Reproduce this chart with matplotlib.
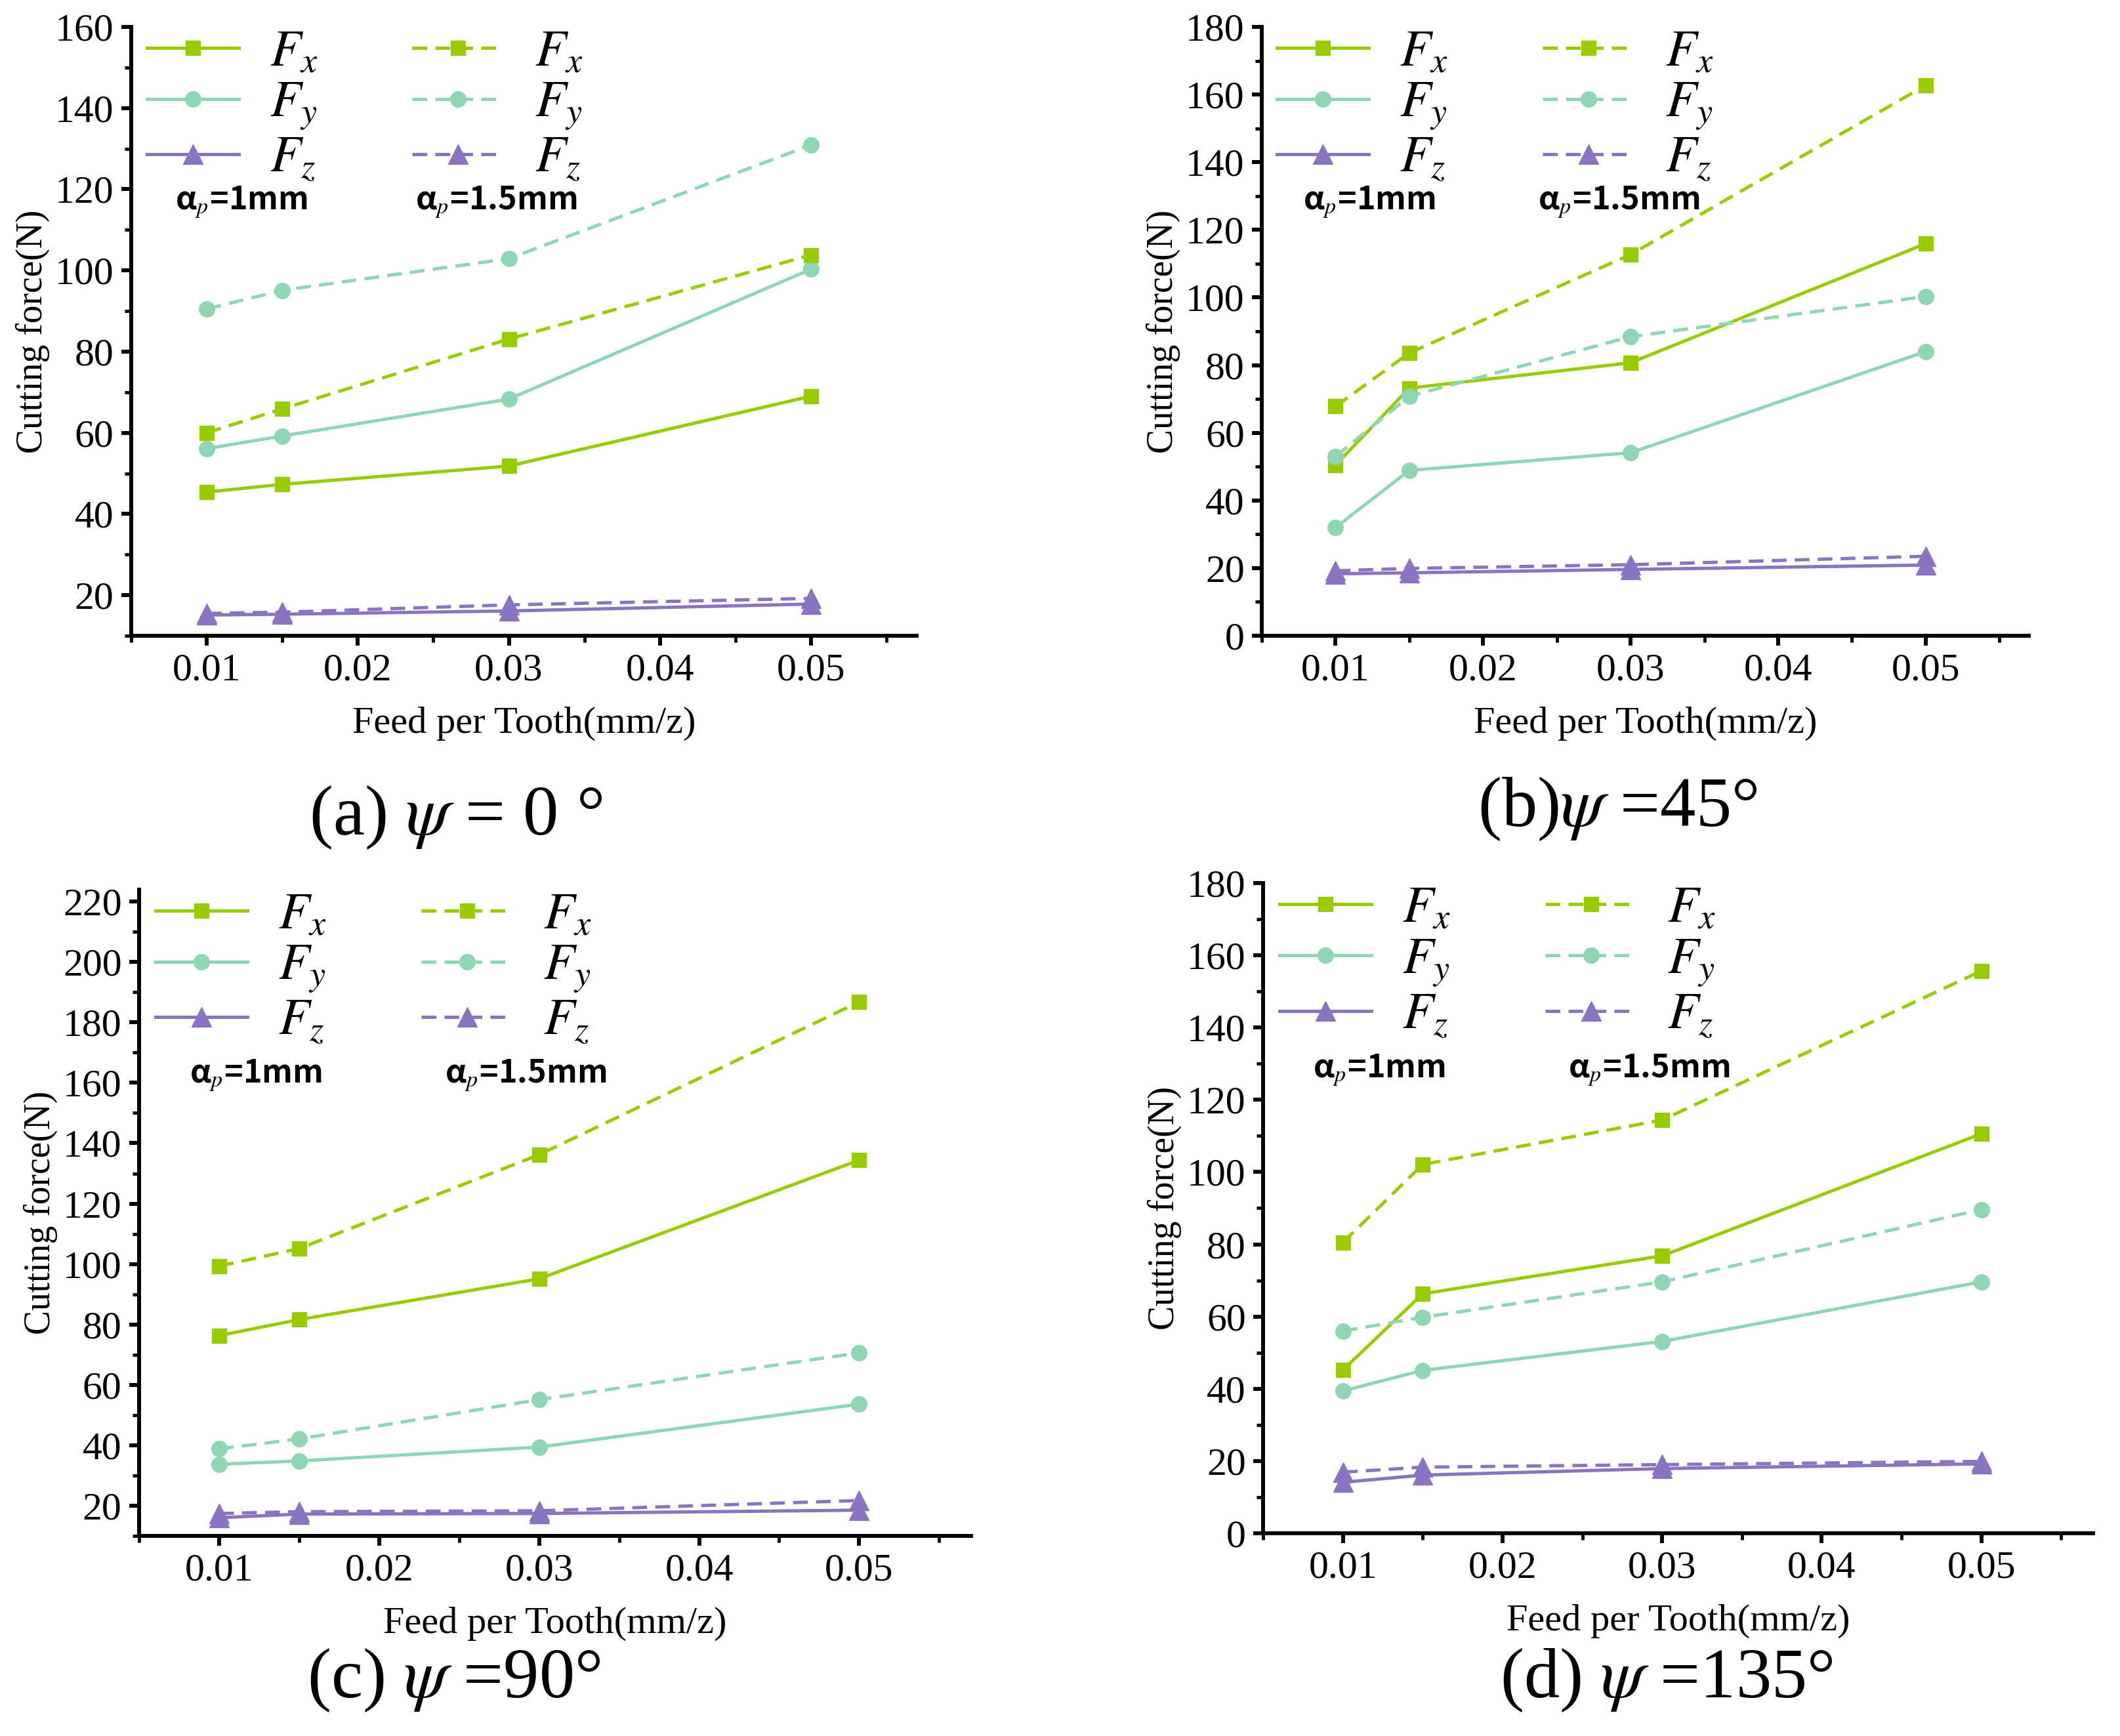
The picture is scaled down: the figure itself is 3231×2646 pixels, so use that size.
import numpy as np
import matplotlib
matplotlib.use("Agg")
import matplotlib.pyplot as plt
from matplotlib.ticker import MultipleLocator

plt.rcParams['font.family'] = ['Liberation Serif', 'DejaVu Serif']
plt.rcParams['mathtext.fontset'] = 'stix'

feed = [0.01, 0.015, 0.03, 0.05]

# (a) psi = 0
a_fx_1 = [45.4, 47.3, 51.8, 69.0]
a_fy_1 = [56.1, 59.2, 68.3, 100.3]
a_fz_1 = [15.1, 15.3, 16.1, 17.8]
a_fx_15 = [60.0, 65.9, 83.1, 103.8]
a_fy_15 = [90.5, 95.1, 102.9, 130.9]
a_fz_15 = [15.5, 15.8, 17.6, 19.2]

# (b) psi = 45
b_fx_1 = [50.5, 73.2, 80.7, 115.9]
b_fy_1 = [32.0, 48.9, 54.1, 84.0]
b_fz_1 = [18.3, 18.6, 19.6, 20.9]
b_fx_15 = [67.8, 83.6, 112.7, 162.7]
b_fy_15 = [53.0, 70.8, 88.4, 100.3]
b_fz_15 = [19.2, 19.9, 21.0, 23.5]

# (c) psi = 90
c_fx_1 = [76.3, 81.6, 95.1, 134.4]
c_fy_1 = [33.7, 34.8, 39.4, 53.6]
c_fz_1 = [16.0, 17.2, 17.4, 18.5]
c_fx_15 = [99.3, 105.1, 136.2, 186.8]
c_fy_15 = [38.8, 42.1, 55.1, 70.6]
c_fz_15 = [17.4, 18.0, 18.3, 21.7]

# (d) psi = 135
d_fx_1 = [45.2, 66.3, 76.8, 110.6]
d_fy_1 = [39.4, 45.1, 53.1, 69.6]
d_fz_1 = [14.1, 16.1, 17.9, 19.2]
d_fx_15 = [80.5, 102.1, 114.4, 155.7]
d_fy_15 = [56.0, 59.8, 69.6, 89.6]
d_fz_15 = [16.9, 18.3, 19.0, 19.9]

captions = [r'(a) $\psi$ = 0 °', r'(b)$\psi$ =45°', r'(c) $\psi$ =90°', r'(d) $\psi$ =135°']
ylims = [(10, 160), (0, 180), (10, 224), (0, 180)]
yticks = [np.arange(20, 161, 20), np.arange(0, 181, 20), np.arange(20, 221, 20), np.arange(0, 181, 20)]

c_fx = '#99cc00'
c_fy = '#8fd6b4'
c_fz = '#8a74c2'

fig = plt.figure(figsize=(32.31, 26.46), dpi=100)
rects = [[0.0619, 0.6338, 0.3705, 0.3507],
         [0.5952, 0.6338, 0.3618, 0.3507],
         [0.0656, 0.1153, 0.3925, 0.3723],
         [0.5958, 0.1168, 0.3915, 0.3745]]
cap_pos = [(0.215, 0.529), (0.763, 0.534), (0.214, 0.032), (0.786, 0.032)]

panels = [(a_fx_1, a_fy_1, a_fz_1, a_fx_15, a_fy_15, a_fz_15),
          (b_fx_1, b_fy_1, b_fz_1, b_fx_15, b_fy_15, b_fz_15),
          (c_fx_1, c_fy_1, c_fz_1, c_fx_15, c_fy_15, c_fz_15),
          (d_fx_1, d_fy_1, d_fz_1, d_fx_15, d_fy_15, d_fz_15)]

lw = 3.6
dash = (4.5, 2.5)
for i, (fx1, fy1, fz1, fx15, fy15, fz15) in enumerate(panels):
    ax = fig.add_axes(rects[i])
    h1, = ax.plot(feed, fx1, '-', color=c_fx, lw=lw, marker='s', ms=16)
    h2, = ax.plot(feed, fy1, '-', color=c_fy, lw=lw, marker='o', ms=17)
    h3, = ax.plot(feed, fz1, '-', color=c_fz, lw=lw, marker='^', ms=22)
    h4, = ax.plot(feed, fx15, '--', color=c_fx, lw=lw, marker='s', ms=16, dashes=dash)
    h5, = ax.plot(feed, fy15, '--', color=c_fy, lw=lw, marker='o', ms=17, dashes=dash)
    h6, = ax.plot(feed, fz15, '--', color=c_fz, lw=lw, marker='^', ms=22, dashes=dash)

    ax.set_xlim(0.005, 0.057)
    ax.set_ylim(*ylims[i])
    ax.set_xticks([0.01, 0.02, 0.03, 0.04, 0.05])
    ax.set_xticklabels(['0.01', '0.02', '0.03', '0.04', '0.05'], fontfamily='Liberation Serif')
    ax.set_yticks(yticks[i])
    ax.set_yticklabels([str(v) for v in yticks[i]], fontfamily='Liberation Serif')
    ax.xaxis.set_minor_locator(MultipleLocator(0.005))
    ax.yaxis.set_minor_locator(MultipleLocator(10))
    for s in ['top', 'right']:
        ax.spines[s].set_visible(False)
    for s in ['left', 'bottom']:
        ax.spines[s].set_linewidth(4.3)
    ax.tick_params(which='major', direction='out', length=11, width=4.3, labelsize=43, pad=8)
    ax.tick_params(which='minor', direction='out', length=7, width=3.5)
    ax.set_ylabel('Cutting force(N)', fontsize=40, labelpad=6, fontfamily='Liberation Serif')
    ax.set_xlabel('Feed per Tooth(mm/z)', fontsize=42, labelpad=20, fontfamily='Liberation Serif')

    ax.legend([h1, h2, h3, h4, h5, h6],
              ['$F_x$', '$F_y$', '$F_z$', '$F_x$', '$F_y$', '$F_z$'],
              ncol=2, loc='upper left', bbox_to_anchor=(0.02, 0.995), frameon=False,
              fontsize=56, handlelength=1.8, handletextpad=0.6, columnspacing=1.85,
              labelspacing=0.08, borderpad=0, borderaxespad=0)
    ax.text(0.14, 0.712, r'α$_p$=1mm', transform=ax.transAxes, ha='center', va='center',
            fontsize=35, fontweight='bold', family=['Noto Sans CJK SC', 'DejaVu Sans'])
    ax.text(0.465, 0.712, r'α$_p$=1.5mm', transform=ax.transAxes, ha='center', va='center',
            fontsize=35, fontweight='bold', family=['Noto Sans CJK SC', 'DejaVu Sans'])

    fig.text(cap_pos[i][0], cap_pos[i][1], captions[i], ha='center', va='center', fontsize=78)

fig.savefig('out.png', dpi=100)
